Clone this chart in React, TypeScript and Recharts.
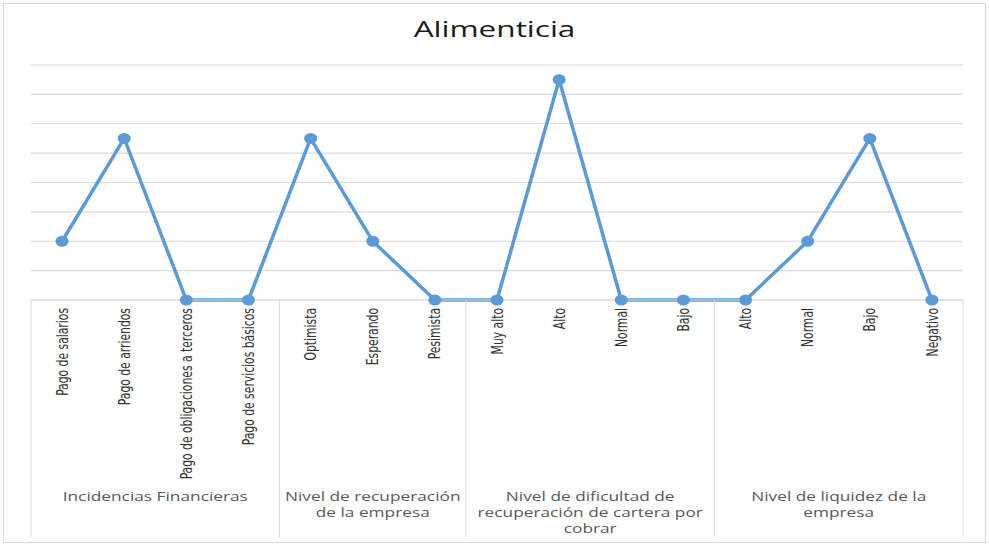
import { CartesianGrid, Line, LineChart, XAxis, YAxis } from 'recharts';

const categories = [
  'Pago de salarios',
  'Pago de arriendos',
  'Pago de obligaciones a terceros',
  'Pago de servicios básicos',
  'Optimista',
  'Esperando',
  'Pesimista',
  'Muy alto',
  'Alto',
  'Normal',
  'Bajo',
  'Alto',
  'Normal',
  'Bajo',
  'Negativo',
];
const values = [2, 5.5, 0, 0, 5.5, 2, 0, 0, 7.5, 0, 0, 0, 2, 5.5, 0];

const groupLines = [
  ['Incidencias Financieras'],
  ['Nivel de recuperación', 'de la empresa'],
  ['Nivel de dificultad de', 'recuperación de cartera por', 'cobrar'],
  ['Nivel de liquidez de la', 'empresa'],
];
const groupSizes = [4, 3, 4, 4];
const yTicks = [0, 1, 2, 3, 4, 5, 6, 7, 8];

const W = 989;
const H = 545;
const M = { top: 65, right: 26, bottom: 8, left: 31 };
const AXIS_H = 237;
const PLOT_BOTTOM = H - M.bottom - AXIS_H;
const BAND = (W - M.left - M.right) / categories.length;
const BLUE = '#5b9bd5';
const GRID = '#d9d9d9';

const data = values.map((value, i) => ({ i, value }));

const groupStarts = groupSizes.map((_, g) => groupSizes.slice(0, g).reduce((s, n) => s + n, 0));

function CategoryTick(props: any) {
  const { x, payload } = props;
  const i = payload.value as number;
  const g = groupStarts.indexOf(i);
  const left = x - BAND / 2;
  return (
    <g>
      {/* rotated label, glyphs widened across the band */}
      <text
        transform={`translate(${x},${PLOT_BOTTOM + 8}) rotate(-90) scale(1,1.3)`}
        textAnchor="end"
        dy="0.36em"
        fontSize={12}
        fontFamily="'Liberation Sans Narrow', 'DejaVu Sans Condensed', sans-serif"
        fill="#333"
      >
        {categories[i]}
      </text>
      {g >= 0 && <line x1={left} x2={left} y1={PLOT_BOTTOM} y2={537} stroke={GRID} />}
      {i === categories.length - 1 && (
        <line x1={x + BAND / 2} x2={x + BAND / 2} y1={PLOT_BOTTOM} y2={537} stroke={GRID} />
      )}
      {g >= 0 &&
        groupLines[g].map((line, k) => (
          <text
            key={k}
            transform={`translate(${left + (groupSizes[g] * BAND) / 2},${501 + k * 16}) scale(1.33,1)`}
            textAnchor="middle"
            fontSize={13}
            fontFamily="'Open Sans', sans-serif"
            fill="#595959"
          >
            {line}
          </text>
        ))}
    </g>
  );
}

export default function App() {
  return (
    <div style={{ position: 'relative', width: W, height: H, background: '#fff' }}>
      <style>{'body{margin:0}'}</style>
      <div
        style={{
          position: 'absolute',
          left: 3,
          top: 3,
          width: 981,
          height: 538,
          border: `1px solid ${GRID}`,
        }}
      />
      <div
        style={{
          position: 'absolute',
          left: 0,
          top: 19,
          width: W,
          textAlign: 'center',
          fontFamily: "'Open Sans', sans-serif",
          fontSize: 21,
          lineHeight: '21px',
          color: '#1a1a1a',
          transform: 'scaleX(1.5)',
        }}
      >
        Alimenticia
      </div>
      <div style={{ position: 'absolute', left: 0, top: 0 }}>
        <LineChart width={W} height={H} data={data} margin={M}>
          <CartesianGrid vertical={false} stroke={GRID} strokeWidth={1.2} />
          <XAxis
            dataKey="i"
            type="category"
            scale="band"
            height={AXIS_H}
            axisLine={{ stroke: GRID }}
            tickLine={false}
            interval={0}
            tick={<CategoryTick />}
          />
          <YAxis hide domain={[0, 8]} ticks={yTicks} width={0} />
          <Line
            dataKey="value"
            stroke={BLUE}
            strokeWidth={3.5}
            isAnimationActive={false}
            dot={(p: any) => <ellipse key={p.index} cx={p.cx} cy={p.cy} rx={6.5} ry={5.5} fill={BLUE} />}
            activeDot={false}
          />
        </LineChart>
      </div>
    </div>
  );
}
